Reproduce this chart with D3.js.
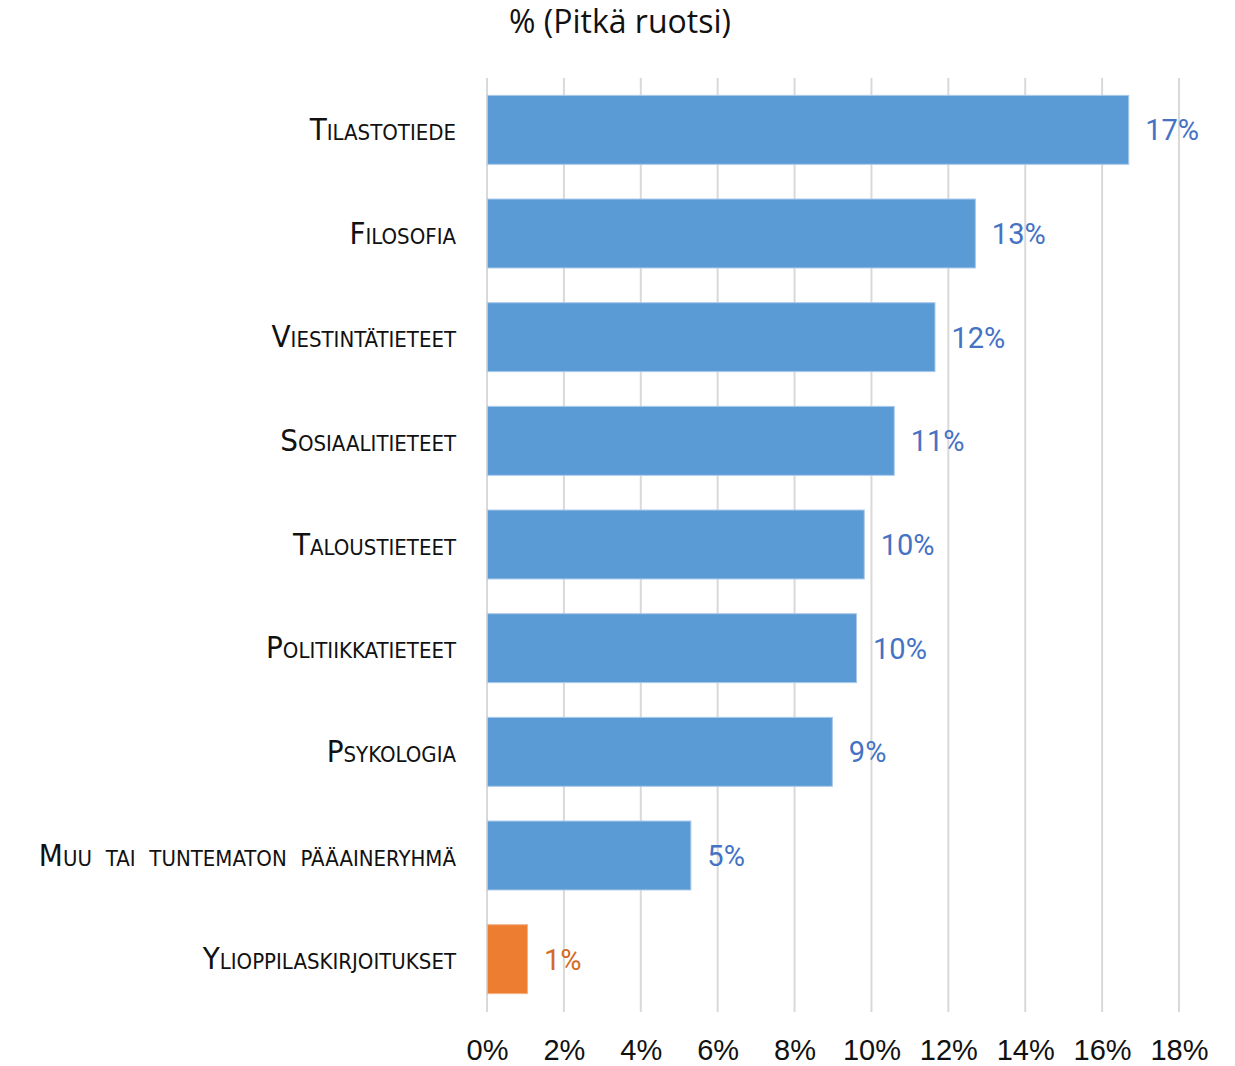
<!DOCTYPE html>
<html>
<head>
<meta charset="utf-8">
<script src="https://cdn.jsdelivr.net/npm/d3@7"></script>
<style>
  body { margin: 0; background: #fff; }
  svg { display: block; }
</style>
</head>
<body>
<div id="wrapper"></div>
<script>
// data
const categories = ["Tilastotiede", "Filosofia", "Viestintätieteet", "Sosiaalitieteet",
    "Taloustieteet", "Politiikkatieteet", "Psykologia", "Muu tai tuntematon pääaineryhmä",
    "Ylioppilaskirjoitukset"]
const values = [16.68, 12.69, 11.64, 10.58, 9.80, 9.60, 8.97, 5.29, 1.04]
const highlight = ["Ylioppilaskirjoitukset"]
const ticks = [0, 2, 4, 6, 8, 10, 12, 14, 16, 18]
const title = "% (Pitkä ruotsi)"

function build_chart() {
    var dimension = {
        width: 1235,
        height: 1066,
        margin: { top: 78, left: 487, right: 56, bottom: 55 }
    }

    const data = categories.map((c, i) => ({ name: c, value: values[i] }))

    const wrapper = d3.select("#wrapper")
        .append("svg")
        .attr("width", dimension.width)
        .attr("height", dimension.height)

    const bounds = wrapper.append("g")
        .attr("transform", `translate(${dimension.margin.left},${dimension.margin.top})`)

    const x = d3.scaleLinear()
        .domain([0, 18])
        .range([0, 692])
    const y = d3.scaleBand()
        .domain(categories)
        .range([0, 933])
        .paddingInner(0.335)
        .paddingOuter(0.1675)

    // gridlines
    bounds.append("g")
        .selectAll("line")
        .data(ticks)
        .enter()
        .append("line")
        .attr("x1", d => x(d))
        .attr("x2", d => x(d))
        .attr("y1", 0)
        .attr("y2", 934)
        .attr("stroke", "#d9d9d9")
        .attr("stroke-width", 2)

    // x tick labels
    const xAxis = d3.axisBottom(x)
        .tickValues(ticks)
        .tickSize(0)
        .tickPadding(0)
        .tickFormat(d => d + "%")
    const xg = bounds.append("g")
        .attr("transform", "translate(0,958)")
        .call(xAxis)
    xg.select(".domain").remove()
    xg.selectAll("text")
        .attr("dy", 0)
        .attr("y", 24)
        .style("font-family", "'Liberation Sans Narrow', 'Arial Narrow', sans-serif")
        .style("font-size", "29px")
        .style("fill", "#111")

    // bars
    bounds.selectAll("rect")
        .data(data)
        .enter()
        .append("rect")
        .attr("x", 0.5)
        .attr("y", d => y(d.name))
        .attr("width", d => x(d.value))
        .attr("height", y.bandwidth())
        .attr("fill", d => highlight.includes(d.name) ? "#ED7D31" : "#5B9BD5")
        .attr("stroke", d => highlight.includes(d.name) ? "#f4b183" : "#a9c9ea")
        .attr("stroke-width", 1)

    // value labels
    const fmt = d3.format(".0f")
    bounds.append("g")
        .selectAll("text")
        .data(data)
        .enter()
        .append("text")
        .attr("x", d => x(d.value) + 17)
        .attr("y", d => y(d.name) + y.bandwidth() / 2 + 10.5)
        .text(d => fmt(d.value) + "%")
        .style("font-family", "Roboto, 'Open Sans', sans-serif")
        .style("font-size", "29px")
        .style("fill", d => highlight.includes(d.name) ? "#D46A24" : "#4472C4")

    // category labels (small caps)
    const yAxis = d3.axisLeft(y).tickSize(0).tickPadding(31)
    const yg = bounds.append("g").call(yAxis)
    yg.select(".domain").remove()
    yg.selectAll("text")
        .attr("dy", 0)
        .attr("y", 10)
        .style("font-family", "'DejaVu Sans Condensed', 'DejaVu Sans', sans-serif")
        .style("font-stretch", "condensed")
        .style("font-variant", "small-caps")
        .style("font-size", "31px")
        .style("word-spacing", "5px")
        .style("fill", "#111")

    // title
    wrapper.append("text")
        .attr("x", 620)
        .attr("y", 33)
        .attr("text-anchor", "middle")
        .text(title)
        .style("font-family", "'Open Sans', sans-serif")
        .style("font-size", "32px")
        .style("fill", "#111")
}

build_chart()
</script>
</body>
</html>
